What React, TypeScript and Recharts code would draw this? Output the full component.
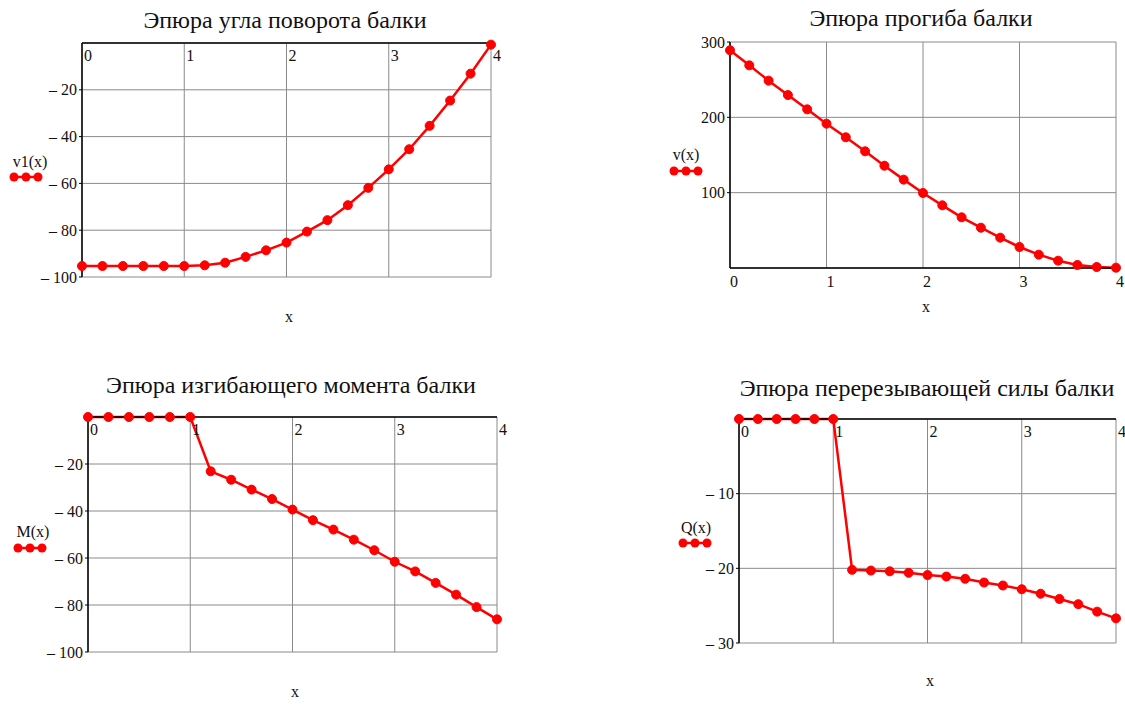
import { LineChart, Line, XAxis, YAxis, CartesianGrid } from 'recharts';

// x positions along the beam, m
const xs = [0, 0.2, 0.4, 0.6, 0.8, 1, 1.2, 1.4, 1.6, 1.8, 2, 2.2, 2.4, 2.6, 2.8, 3, 3.2, 3.4, 3.6, 3.8, 4];

// angle of rotation v1(x)
const slopeVals = [-95.3, -95.3, -95.3, -95.3, -95.3, -95.3, -95, -93.9, -91.4, -88.6, -85.3, -80.6, -75.7, -69.3, -61.9, -54, -45.4, -35.4, -24.6, -13.1, -0.7];
// deflection v(x)
const deflVals = [289, 269, 248.7, 229.6, 210.6, 191.6, 173.5, 154.9, 135.8, 117.3, 99.6, 83.2, 67.3, 53.5, 40.3, 27.9, 17.7, 9.7, 4, 1.3, 0.4];
// bending moment M(x)
const momentVals = [0, 0, 0, 0, 0, 0, -23.1, -26.7, -30.9, -34.9, -39.4, -43.9, -47.9, -52.2, -56.7, -61.6, -65.7, -70.6, -75.6, -80.9, -86.1];
// shear force Q(x)
const shearVals = [0, 0, 0, 0, 0, 0, -20.2, -20.3, -20.4, -20.6, -20.9, -21.1, -21.4, -21.9, -22.3, -22.8, -23.4, -24.1, -24.8, -25.8, -26.7];

const xTicks = [0, 1, 2, 3, 4];
const slopeTicks = [-100, -80, -60, -40, -20];
const deflTicks = [100, 200, 300];
const momentTicks = [-100, -80, -60, -40, -20];
const shearTicks = [-30, -20, -10];

const FONT = '"Liberation Serif", "Times New Roman", serif';
const RED = '#ff0000';
const GRID = '#8a8a8a';
const AXIS_H = 20;

const fmt = (v: number) => (v < 0 ? `\u2013 ${Math.abs(v)}` : `${v}`);

// x tick labels sit just below the x axis line, whichever side the axis is on
const XTick = (props: any) => {
  const { x, y, payload, top } = props;
  const base = top ? y + 2 + 18 : y + 17;
  return (
    <text x={x + (top ? 2 : 0)} y={base} fontSize={16} fill="#111" fontFamily={FONT}>
      {payload.value}
    </text>
  );
};

interface PanelProps {
  box: { left: number; top: number; width: number; height: number };
  plot: { l: number; t: number; r: number; b: number };
  vals: number[];
  domain: [number, number];
  yTicks: number[];
  axisTop: boolean;
  title: string;
  titleAt: [number, number];
  xLabelAt: [number, number];
  name: string;
  nameAt: [number, number];
  keyAt: [number, number];
}

function Panel(p: PanelProps) {
  const data = xs.map((x, i) => ({ x, y: p.vals[i] }));
  const margin = {
    left: 0,
    top: p.plot.t - p.box.top - (p.axisTop ? AXIS_H : 0),
    right: p.box.left + p.box.width - p.plot.r,
    bottom: p.box.top + p.box.height - p.plot.b - (p.axisTop ? 0 : AXIS_H),
  };
  return (
    <>
      <div style={{ position: 'absolute', left: p.box.left, top: p.box.top }}>
        <LineChart width={p.box.width} height={p.box.height} data={data} margin={margin}>
          <CartesianGrid stroke={GRID} strokeWidth={1} />
          <XAxis
            type="number"
            dataKey="x"
            domain={[0, 4]}
            ticks={xTicks}
            orientation={p.axisTop ? 'top' : 'bottom'}
            height={AXIS_H}
            tickSize={0}
            tickMargin={2}
            tick={(t: any) => <XTick {...t} top={p.axisTop} />}
            axisLine={{ stroke: '#000', strokeWidth: 1.5 }}
          />
          <YAxis
            type="number"
            domain={p.domain}
            ticks={p.yTicks}
            width={p.plot.l - p.box.left}
            tickSize={3}
            tickMargin={2}
            tickFormatter={fmt}
            tick={{ fontSize: 16, fill: '#111', fontFamily: FONT }}
            tickLine={{ stroke: '#000' }}
            axisLine={{ stroke: '#000', strokeWidth: 1.5 }}
          />
          <Line
            type="linear"
            dataKey="y"
            stroke={RED}
            strokeWidth={2.5}
            dot={{ r: 4.5, fill: RED, stroke: RED, strokeWidth: 1 }}
            isAnimationActive={false}
          />
        </LineChart>
      </div>
      <div style={{ ...label, fontSize: 24, left: p.titleAt[0], top: p.titleAt[1] }}>{p.title}</div>
      <div style={{ ...label, fontSize: 16, left: p.xLabelAt[0], top: p.xLabelAt[1] }}>x</div>
      <div style={{ ...label, fontSize: 16, left: p.nameAt[0], top: p.nameAt[1] }}>{p.name}</div>
      <svg
        width={36}
        height={14}
        style={{ position: 'absolute', left: p.keyAt[0] - 6, top: p.keyAt[1] - 7 }}
      >
        <line x1={6} y1={7} x2={30} y2={7} stroke={RED} strokeWidth={2.5} />
        {[6, 18, 30].map((cx) => (
          <circle key={cx} cx={cx} cy={7} r={4.5} fill={RED} />
        ))}
      </svg>
    </>
  );
}

const label: React.CSSProperties = {
  position: 'absolute',
  transform: 'translate(-50%, -50%)',
  lineHeight: 1,
  whiteSpace: 'nowrap',
  fontFamily: FONT,
  color: '#111',
};

export default function App() {
  return (
    <div
      style={{
        position: 'absolute',
        left: 0,
        top: 0,
        width: 1125,
        height: 704,
        background: '#fff',
        overflow: 'hidden',
      }}
    >
      <Panel
        box={{ left: 0, top: 0, width: 560, height: 345 }}
        plot={{ l: 82, t: 43, r: 491, b: 277 }}
        vals={slopeVals}
        domain={[-100, 0]}
        yTicks={slopeTicks}
        axisTop
        title="Эпюра угла поворота балки"
        titleAt={[285, 20]}
        xLabelAt={[289, 317]}
        name="v1(x)"
        nameAt={[30, 162]}
        keyAt={[14, 177]}
      />
      <Panel
        box={{ left: 560, top: 0, width: 565, height: 345 }}
        plot={{ l: 730, t: 42, r: 1116, b: 268 }}
        vals={deflVals}
        domain={[0, 300]}
        yTicks={deflTicks}
        axisTop={false}
        title="Эпюра прогиба балки"
        titleAt={[921, 18]}
        xLabelAt={[926, 307]}
        name="v(x)"
        nameAt={[686, 155]}
        keyAt={[674, 171]}
      />
      <Panel
        box={{ left: 0, top: 352, width: 560, height: 352 }}
        plot={{ l: 88, t: 417, r: 497, b: 652 }}
        vals={momentVals}
        domain={[-100, 0]}
        yTicks={momentTicks}
        axisTop
        title="Эпюра изгибающего момента балки"
        titleAt={[291, 385]}
        xLabelAt={[295, 692]}
        name="M(x)"
        nameAt={[33, 532]}
        keyAt={[18, 548]}
      />
      <Panel
        box={{ left: 560, top: 352, width: 565, height: 352 }}
        plot={{ l: 739, t: 419, r: 1116, b: 643 }}
        vals={shearVals}
        domain={[-30, 0]}
        yTicks={shearTicks}
        axisTop
        title="Эпюра перерезывающей силы балки"
        titleAt={[927, 388]}
        xLabelAt={[930, 681]}
        name="Q(x)"
        nameAt={[696, 528]}
        keyAt={[683, 543]}
      />
    </div>
  );
}
